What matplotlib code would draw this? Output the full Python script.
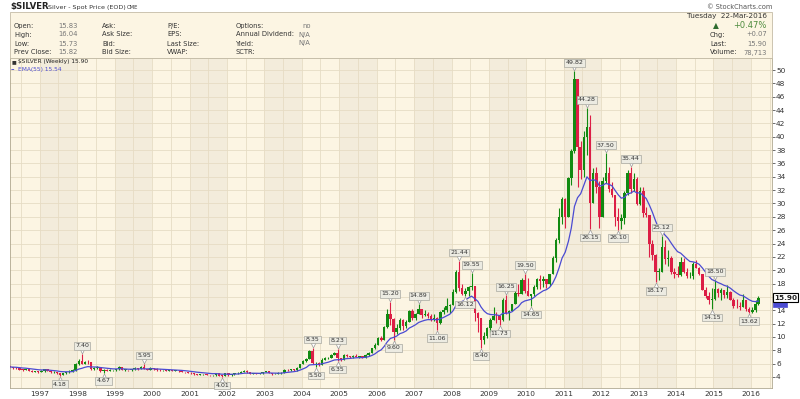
import numpy as np
import pandas as pd
import matplotlib
matplotlib.use('Agg')
import matplotlib.pyplot as plt
import matplotlib.dates as mdates
import matplotlib.transforms as mtrans
from matplotlib.patches import Rectangle

plt.rcParams['font.family'] = ['DejaVu Sans']

# monthly bars, Mar 1996 .. Mar 2016
start_month = '1996-03'
first_open = 5.60
closes = [
    5.50, 5.35, 5.30, 5.10, 5.05, 5.15, 4.95, 4.80, 4.85, 4.75,                    # 1996
    4.85, 5.15, 4.95, 4.70, 4.75, 4.60, 4.35, 4.55, 4.70, 4.80, 5.00, 5.95,        # 1997
    6.40, 6.00, 6.30, 6.20, 5.20, 5.40, 5.50, 4.95, 5.05, 4.90, 5.00, 5.00,        # 1998
    5.15, 5.50, 5.05, 5.05, 5.00, 5.15, 5.35, 5.15, 5.50, 5.20, 5.10, 5.40,        # 1999
    5.20, 5.05, 5.00, 5.00, 4.95, 5.00, 4.95, 4.95, 4.85, 4.75, 4.70, 4.60,        # 2000
    4.55, 4.40, 4.35, 4.40, 4.40, 4.30, 4.25, 4.25, 4.60, 4.20, 4.15, 4.55,        # 2001
    4.25, 4.40, 4.55, 4.60, 4.75, 4.95, 4.70, 4.50, 4.55, 4.45, 4.55, 4.75,        # 2002
    4.85, 4.60, 4.40, 4.50, 4.55, 4.60, 5.05, 5.00, 5.15, 5.00, 5.35, 5.95,        # 2003
    6.35, 6.70, 7.95, 6.05, 6.05, 5.85, 6.60, 6.80, 6.90, 7.30, 7.60, 6.80,        # 2004
    6.60, 7.30, 7.10, 6.95, 7.20, 7.05, 7.10, 6.85, 7.30, 7.60, 8.30, 8.85,        # 2005
    9.90, 9.60, 11.50, 13.40, 12.70, 10.80, 11.30, 12.60, 11.60, 12.30, 13.90, 12.90,   # 2006
    13.40, 14.20, 13.30, 13.40, 13.20, 12.50, 12.90, 12.10, 13.80, 14.00, 14.60, 14.80, # 2007
    16.80, 19.80, 17.30, 16.50, 16.90, 17.50, 17.70, 13.60, 12.90, 9.60, 10.20, 11.30,  # 2008
    12.60, 13.20, 13.10, 12.50, 15.60, 13.60, 13.90, 14.90, 16.60, 16.50, 18.60, 16.90, # 2009
    16.20, 16.40, 17.50, 18.70, 18.40, 18.70, 18.00, 19.40, 21.80, 24.50, 28.00, 30.60, # 2010
    27.90, 33.80, 37.90, 48.60, 38.50, 35.00, 40.00, 41.50, 30.00, 34.50, 32.50, 28.00, # 2011
    33.30, 34.60, 32.20, 31.30, 28.00, 27.40, 27.80, 31.60, 34.60, 32.20, 33.60, 29.90, # 2012
    31.80, 28.60, 28.30, 24.00, 22.30, 19.80, 19.80, 23.50, 21.70, 21.90, 19.80, 19.50, # 2013
    19.30, 21.20, 19.70, 19.10, 19.10, 20.90, 20.40, 19.40, 17.10, 16.20, 15.50, 15.70, # 2014
    17.20, 16.60, 17.00, 16.30, 16.80, 15.60, 14.70, 14.60, 14.50, 15.50, 14.20, 13.80, # 2015
    14.00, 15.00, 15.90,                                                                # 2016
]
highs = [
    5.75, 5.55, 5.45, 5.35, 5.15, 5.25, 5.20, 5.00, 4.95, 4.90,
    5.00, 5.25, 5.20, 4.95, 4.85, 4.80, 4.60, 4.65, 4.80, 5.00, 5.20, 6.10,
    6.70, 7.40, 6.45, 6.55, 6.20, 5.55, 5.65, 5.50, 5.25, 5.15, 5.15, 5.10,
    5.25, 5.60, 5.50, 5.15, 5.10, 5.20, 5.45, 5.40, 5.60, 5.95, 5.25, 5.45,
    5.40, 5.30, 5.15, 5.10, 5.05, 5.10, 5.05, 5.00, 5.00, 4.90, 4.80, 4.75,
    4.70, 4.60, 4.45, 4.45, 4.50, 4.45, 4.35, 4.35, 4.65, 4.60, 4.25, 4.60,
    4.60, 4.45, 4.65, 4.70, 4.85, 5.10, 5.00, 4.75, 4.65, 4.60, 4.60, 4.80,
    4.95, 4.85, 4.65, 4.60, 4.80, 4.70, 5.15, 5.15, 5.25, 5.20, 5.45, 6.00,
    6.55, 6.85, 8.00, 8.35, 6.30, 6.20, 6.80, 6.95, 7.00, 7.40, 7.80, 8.23,
    6.90, 7.40, 7.40, 7.20, 7.30, 7.40, 7.20, 7.20, 7.40, 7.70, 8.40, 9.10,
    10.00, 10.20, 11.60, 14.20, 15.20, 12.80, 11.90, 12.90, 12.70, 12.50, 14.10, 14.20,
    13.60, 14.89, 14.20, 14.10, 13.70, 13.40, 13.40, 13.00, 13.90, 14.50, 15.80, 15.00,
    17.20, 20.00, 21.44, 18.00, 17.40, 17.60, 19.55, 17.70, 13.70, 12.90, 10.80, 11.50,
    12.90, 14.50, 13.80, 13.00, 15.80, 16.25, 14.10, 15.00, 17.40, 18.00, 18.90, 19.50,
    18.80, 16.50, 17.80, 18.90, 19.30, 19.10, 18.70, 19.50, 22.10, 24.80, 29.30, 31.00,
    30.80, 34.00, 38.20, 49.82, 48.70, 39.30, 40.80, 44.28, 43.30, 35.30, 35.50, 33.40,
    34.00, 37.50, 35.40, 33.20, 31.30, 29.30, 28.40, 31.80, 35.00, 35.44, 34.60, 34.00,
    32.50, 32.40, 29.40, 28.20, 24.50, 22.50, 20.40, 25.12, 24.60, 23.00, 22.20, 20.30,
    20.60, 22.00, 21.80, 20.30, 19.70, 21.20, 21.60, 20.50, 19.50, 17.50, 16.80, 17.30,
    18.50, 17.40, 17.30, 17.10, 17.80, 16.90, 15.80, 15.70, 15.30, 16.40, 15.50, 14.50,
    14.50, 15.60, 16.10,
]
lows = [
    5.40, 5.25, 5.20, 5.00, 4.95, 5.00, 4.90, 4.70, 4.75, 4.65,
    4.70, 4.80, 4.85, 4.60, 4.60, 4.40, 4.18, 4.30, 4.50, 4.65, 4.75, 4.95,
    5.80, 5.90, 5.90, 5.95, 5.00, 5.10, 5.20, 4.80, 4.67, 4.85, 4.85, 4.85,
    4.95, 5.10, 5.00, 4.95, 4.90, 4.95, 5.10, 5.10, 5.15, 5.15, 5.05, 5.05,
    5.10, 4.95, 4.95, 4.90, 4.85, 4.90, 4.90, 4.85, 4.80, 4.70, 4.65, 4.55,
    4.50, 4.35, 4.30, 4.30, 4.30, 4.25, 4.20, 4.20, 4.20, 4.15, 4.01, 4.10,
    4.20, 4.20, 4.35, 4.50, 4.55, 4.70, 4.65, 4.45, 4.45, 4.40, 4.40, 4.50,
    4.70, 4.55, 4.35, 4.40, 4.45, 4.50, 4.55, 4.90, 4.95, 4.90, 4.95, 5.30,
    5.90, 6.20, 6.70, 5.95, 5.50, 5.70, 5.85, 6.50, 6.65, 6.90, 7.25, 6.35,
    6.40, 6.55, 6.95, 6.85, 6.90, 6.95, 6.90, 6.80, 6.85, 7.20, 7.55, 8.20,
    8.85, 9.35, 9.50, 11.40, 11.80, 9.60, 10.50, 11.00, 11.10, 11.40, 12.20, 12.50,
    12.60, 13.40, 12.80, 13.10, 12.80, 12.40, 12.40, 11.06, 12.00, 13.40, 13.80, 13.60,
    14.80, 16.60, 16.90, 16.30, 16.12, 16.20, 17.10, 12.40, 10.70, 8.40, 8.90, 9.80,
    10.80, 12.50, 12.10, 11.73, 12.40, 13.40, 12.50, 13.90, 14.90, 16.20, 16.40, 16.60,
    16.10, 14.65, 16.20, 17.20, 17.20, 17.50, 17.40, 17.60, 19.40, 21.30, 24.10, 26.90,
    26.40, 27.90, 32.80, 37.60, 32.40, 33.60, 33.90, 37.20, 26.15, 30.00, 31.50, 26.30,
    28.00, 33.00, 31.70, 30.90, 26.70, 26.10, 26.20, 27.00, 31.30, 31.50, 31.80, 29.80,
    29.80, 28.00, 28.00, 22.00, 21.50, 18.17, 18.60, 19.80, 21.00, 20.70, 19.40, 18.90,
    19.00, 19.20, 19.60, 18.90, 18.80, 18.70, 20.30, 19.30, 17.00, 15.80, 15.00, 14.15,
    15.60, 16.00, 15.50, 15.80, 15.80, 15.50, 14.40, 14.30, 14.10, 14.50, 13.90, 13.62,
    13.60, 13.80, 14.80,
]

# labelled swing highs / lows
mark_months = ['1997-07', '1998-02', '1998-09', '1999-10', '2001-11', '2004-04', '2004-05',
               '2004-12', '2004-12', '2006-05', '2006-06', '2007-02', '2007-08', '2008-03',
               '2008-05', '2008-07', '2008-10', '2009-04', '2009-06', '2009-12', '2010-02',
               '2011-04', '2011-08', '2011-09', '2012-02', '2012-06', '2012-10', '2013-06',
               '2013-08', '2014-12', '2015-01', '2015-12']
mark_values = [4.18, 7.40, 4.67, 5.95, 4.01, 8.35, 5.50, 8.23, 6.35, 15.20, 9.60, 14.89, 11.06,
               21.44, 16.12, 19.55, 8.40, 11.73, 16.25, 19.50, 14.65, 49.82, 44.28, 26.15,
               37.50, 26.10, 35.44, 18.17, 25.12, 14.15, 18.50, 13.62]
mark_side = ['lo', 'hi', 'lo', 'hi', 'lo', 'hi', 'lo', 'hi', 'lo', 'hi', 'lo', 'hi', 'lo', 'hi',
             'lo', 'hi', 'lo', 'lo', 'hi', 'hi', 'lo', 'hi', 'hi', 'lo', 'hi', 'lo', 'hi', 'lo',
             'hi', 'lo', 'hi', 'lo']

last_price = 15.90
ema_last = 15.54

BG = '#fcf5e3'
BAND = '#f3ecdb'
GRID = '#e6dcc4'
GREEN = '#118a11'
RED = '#dc1e46'
BLUE = '#4b4bd2'

months = pd.date_range(start_month, periods=len(closes), freq='MS')
x = mdates.date2num(months + pd.Timedelta(days=14))
c = np.array(closes)
o = np.r_[first_open, c[:-1]]
hi = np.array(highs)
lo = np.array(lows)
up = c >= o
cols = np.where(up, GREEN, RED)

ema = pd.Series(c).ewm(span=12.7, adjust=False).mean().values

fig = plt.figure(figsize=(8, 3.99), dpi=100)
fig.patch.set_facecolor('white')


def fx(px):
    return px / 800


def fy(py):
    return 1 - py / 399


ax = fig.add_axes([fx(10), fy(388), fx(772) - fx(10), fy(58) - fy(388)])
ax.set_facecolor(BG)

# alternate-year shading
for yr in range(1995, 2018):
    if yr % 2 == 1:
        ax.axvspan(mdates.date2num(pd.Timestamp(f'{yr}-01-01')),
                   mdates.date2num(pd.Timestamp(f'{yr + 1}-01-01')),
                   color=BAND, lw=0, zorder=0)
for yr in range(1996, 2018):
    for m in ('01', '07'):
        ax.axvline(mdates.date2num(pd.Timestamp(f'{yr}-{m}-01')), color=GRID, lw=0.6, zorder=0.5)
for v in range(4, 52, 2):
    ax.axhline(v, color=GRID, lw=0.6, zorder=0.5)

# candles
ax.vlines(x, lo, hi, colors=cols, lw=0.8, zorder=2)
body_lo = np.minimum(o, c)
body_h = np.maximum(np.abs(c - o), 0.1)
ax.bar(x, body_h, bottom=body_lo, width=24, color=cols, lw=0, zorder=3)

ax.plot(x, ema, color=BLUE, lw=0.9, zorder=4)

# swing labels
month_pos = {m.strftime('%Y-%m'): xv for m, xv in zip(months, x)}
for mm, val, side in zip(mark_months, mark_values, mark_side):
    xv = month_pos[mm]
    if side == 'hi':
        ax.plot(xv, val + 0.45, marker='v', ms=3.5, mfc='white', mec='#999999', mew=0.5, zorder=5)
        off = 6
    else:
        ax.plot(xv, val - 0.45, marker='^', ms=3.5, mfc='white', mec='#999999', mew=0.5, zorder=5)
        off = -6
    ax.annotate(f'{val:.2f}', (xv, val), xytext=(0, off), textcoords='offset points',
                ha='center', va='center', fontsize=4.5, color='#333333', zorder=6,
                bbox=dict(boxstyle='square,pad=0.2', fc='#ecebe2', ec='#a8a8a0', lw=0.5))

ax.set_xlim(mdates.date2num(pd.Timestamp('1996-03-15')), mdates.date2num(pd.Timestamp('2016-07-25')))
ax.set_ylim(2.35, 51.8)

ax.xaxis.set_major_locator(mdates.YearLocator())
ax.xaxis.set_major_formatter(mdates.DateFormatter('%Y'))
ax.tick_params(axis='x', length=0, labelsize=5.3, pad=2, colors='#333333')
ax.yaxis.tick_right()
yt = list(range(4, 52, 2))
ax.set_yticks(yt)
# the 16 label sits under the last-price tag
ax.set_yticklabels(['' if v == 16 else str(v) for v in yt])
ax.tick_params(axis='y', length=2, width=0.5, labelsize=5.3, pad=1, colors='#333333')
for s in ax.spines.values():
    s.set_color('#b0a890')
    s.set_linewidth(0.6)

# price tags on the right axis
tr = mtrans.blended_transform_factory(ax.transAxes, ax.transData)
ax.text(1.003, ema_last - 0.4, '     ', transform=tr, fontsize=5, va='center', ha='left',
        bbox=dict(boxstyle='square,pad=0.15', fc=BLUE, ec=BLUE, lw=0.5), zorder=7, clip_on=False)
ax.text(1.003, last_price, '15.90', transform=tr, fontsize=5.2, va='center', ha='left',
        fontweight='bold', color='#222222', zorder=8, clip_on=False,
        bbox=dict(boxstyle='square,pad=0.15', fc='white', ec='black', lw=0.8))

# in-chart legend
fig.text(fx(12), fy(62), '\u25a0', fontsize=3.6, color='#333333', va='center')
fig.text(fx(18), fy(62), '$SILVER (Weekly) 15.90', fontsize=4.2, color='#222222', va='center')
fig.text(fx(11), fy(69), '\u2013', fontsize=5, color=BLUE, va='center', fontweight='bold')
fig.text(fx(18), fy(69), 'EMA(55) 15.54', fontsize=4.2, color=BLUE, va='center')

# header
fig.text(fx(10), fy(7), '$SILVER', fontsize=6.2, fontweight='bold', color='#222222', va='center')
fig.text(fx(48), fy(7), 'Silver - Spot Price (EOD)', fontsize=4.6, color='#333333', va='center')
fig.text(fx(127), fy(7.5), 'CME', fontsize=3.8, color='#333333', va='center')
fig.text(fx(772), fy(7), '\u00a9 StockCharts.com', fontsize=4.8, color='#555555', va='center', ha='right')

fig.patches.append(Rectangle((fx(10), fy(58)), fx(772) - fx(10), fy(12) - fy(58),
                             transform=fig.transFigure, fc=BG, ec='#c4bca6', lw=0.6, zorder=0))

row_y = [26, 34.5, 43.5, 52.5]
label_cols = [
    (14, ['Open:', 'High:', 'Low:', 'Prev Close:']),
    (102, ['Ask:', 'Ask Size:', 'Bid:', 'Bid Size:']),
    (167, ['P/E:', 'EPS:', 'Last Size:', 'VWAP:']),
    (236, ['Options:', 'Annual Dividend:', 'Yield:', 'SCTR:']),
]
for xp, labs in label_cols:
    for yp, t in zip(row_y, labs):
        fig.text(fx(xp), fy(yp), t, fontsize=4.9, color='#333333', va='center')
for yp, t in zip(row_y, ['15.83', '16.04', '15.73', '15.82']):
    fig.text(fx(58), fy(yp), t, fontsize=4.9, color='#777777', va='center')
for yp, t, xp in zip(row_y, ['no', 'N/A', 'N/A'], [302, 298, 298]):
    fig.text(fx(xp), fy(yp), t, fontsize=4.9, color='#777777', va='center')

fig.text(fx(767), fy(16), 'Tuesday  22-Mar-2016', fontsize=5.2, color='#333333', va='center', ha='right')
fig.text(fx(716), fy(25.5), '\u25b2', fontsize=5.5, color='#2e6b2e', va='center', ha='center')
fig.text(fx(767), fy(25.5), '+0.47%', fontsize=6.0, color='#4c8a3c', va='center', ha='right')
for yp, lab, val in zip([34.5, 43.5, 52.5], ['Chg:', 'Last:', 'Volume:'], ['+0.07', '15.90', '78,713']):
    fig.text(fx(710), fy(yp), lab, fontsize=4.9, color='#333333', va='center')
    fig.text(fx(767), fy(yp), val, fontsize=4.9, color='#777777', va='center', ha='right')

fig.savefig('out.png', dpi=100, facecolor='white')
